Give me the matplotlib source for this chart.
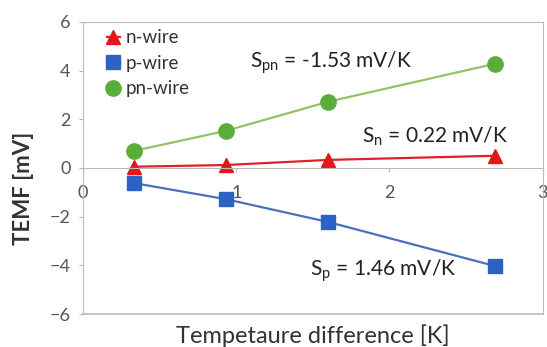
import matplotlib.pyplot as plt

plt.rcParams['font.family'] = ['Lato', 'DejaVu Sans']
plt.rcParams['mathtext.fontset'] = 'custom'
plt.rcParams['mathtext.rm'] = 'Lato'

# temperature difference [K]
dT = [0.33, 0.93, 1.60, 2.69]
n_wire = [0.05, 0.12, 0.33, 0.50]
p_wire = [-0.62, -1.28, -2.22, -4.03]
pn_wire = [0.70, 1.52, 2.72, 4.28]

fig = plt.figure(figsize=(5.47, 3.47), dpi=100)
ax = fig.add_axes([0.152, 0.095, 0.84, 0.842])

ax.plot(dT, n_wire, color="#e0202a", lw=1.6, marker="^", ms=10, mfc="#e8141c", mec="#e8141c", label="n-wire")
ax.plot(dT, p_wire, color="#4a6fbf", lw=1.6, marker="s", ms=10.5, mfc="#2d62c4", mec="#2d62c4", label="p-wire")
ax.plot(dT, pn_wire, color="#94c264", lw=1.6, marker="o", ms=11, mfc="#5aad3a", mec="#5aad3a", label="pn-wire")

ax.set_xlim(0, 3)
ax.set_ylim(-6, 6)
ax.set_yticks([-6, -4, -2, 0, 2, 4, 6])
ax.set_xticks([0, 1, 2, 3])

# x axis crosses at zero
ax.spines['bottom'].set_position(('data', 0))
for s in ax.spines.values():
    s.set_color("#bbbbbb")
ax.tick_params(axis='both', colors="#bbbbbb", labelcolor="#555555", labelsize=13, length=3)
ax.tick_params(axis='x', pad=9)
ax.tick_params(axis='y', pad=6)

# box outline (since bottom spine moved to zero)
ax.plot([0, 3], [-6, -6], color="#bbbbbb", lw=1.2, clip_on=False)

ax.set_ylabel("TEMF [mV]", fontsize=16, fontweight="bold", color="#333333")
ax.yaxis.set_label_coords(-0.108, 0.43)
ax.set_xlabel("Tempetaure difference [K]", fontsize=17, color="#333333")
ax.xaxis.set_label_coords(0.5, -0.035)

ax.text(1.09, 4.32, r"S$_\mathrm{pn}$ = -1.53 mV/K", fontsize=15, color="#222222", va="center")
ax.text(1.82, 1.32, r"S$_\mathrm{n}$ = 0.22 mV/K", fontsize=15, color="#222222", va="center")
ax.text(1.48, -4.2, r"S$_\mathrm{p}$ = 1.46 mV/K", fontsize=15, color="#222222", va="center")

ax.legend(loc="upper left", bbox_to_anchor=(0.035, 1.0), frameon=False, fontsize=13.5,
          handlelength=0.7, handletextpad=0.3, labelspacing=0.45, borderaxespad=0.0,
          labelcolor="#333333")

fig.savefig("out.png")
